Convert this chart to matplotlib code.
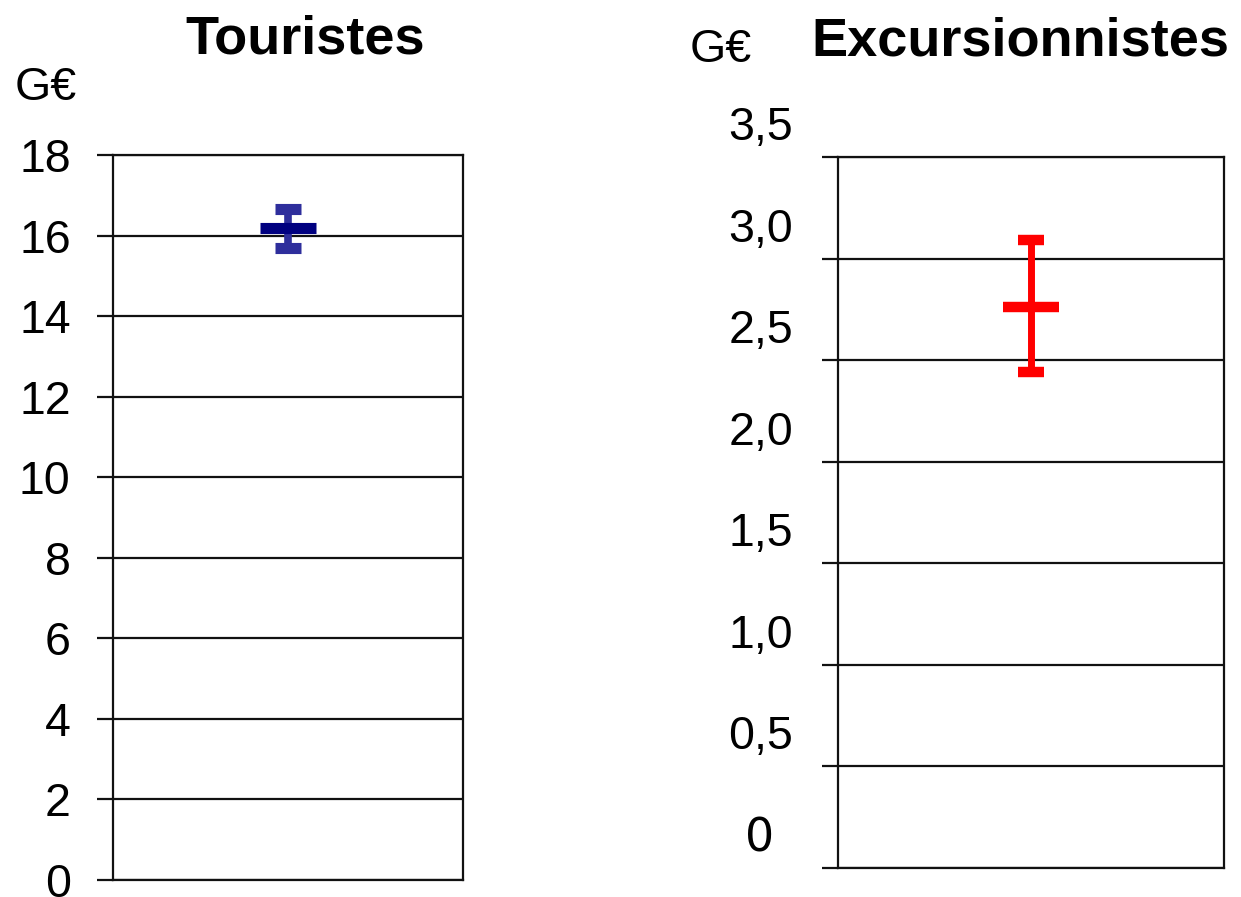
import numpy as np
import matplotlib
matplotlib.use('Agg')
import matplotlib.pyplot as plt
from matplotlib.transforms import ScaledTranslation

# données (milliards d'euros)
titres = ['Touristes', 'Excursionnistes']
valeurs = [16.2, 2.76]
bas = [15.7, 2.44]
haut = [16.65, 3.09]

ticks_tour = [0, 2, 4, 6, 8, 10, 12, 14, 16, 18]
ticks_exc = [0, 0.5, 1.0, 1.5, 2.0, 2.5, 3.0, 3.5]
labels_exc = ['0', '0,5', '1,0', '1,5', '2,0', '2,5', '3,0', '3,5']

plt.rcParams['font.family'] = ['Liberation Sans', 'DejaVu Sans']

W, H = 1241, 897
fig = plt.figure(figsize=(W / 100, H / 100), dpi=100)

ax1 = fig.add_axes([113 / W, (H - 880) / H, 350 / W, 725 / H])
ax2 = fig.add_axes([838 / W, (H - 868) / H, 386 / W, 711 / H])

def style_axe(ax, ymax, ticks):
    ax.set_xlim(0, 2)
    ax.set_ylim(0, ymax)
    ax.set_xticks([])
    ax.set_yticks(ticks)
    for s in ax.spines.values():
        s.set_color('#111111')
        s.set_linewidth(1.6)
    ax.tick_params(axis='y', direction='out', length=11.5, width=1.6,
                   labelsize=33.5, pad=19, colors='#111111', labelcolor='black')
    ax.yaxis.grid(True, color='#111111', linewidth=1.6)
    ax.set_axisbelow(True)

style_axe(ax1, 18, ticks_tour)
style_axe(ax2, 3.5, ticks_exc)

# panneau gauche : touristes
ax1.errorbar([1], [valeurs[0]], yerr=[[valeurs[0] - bas[0]], [haut[0] - valeurs[0]]],
             fmt='_', color='#000080', markersize=40, markeredgewidth=8,
             ecolor='#2e2e9c', elinewidth=5.5, capsize=9.7, capthick=5, zorder=5)

# panneau droit : excursionnistes
ax2.errorbar([1], [valeurs[1]], yerr=[[valeurs[1] - bas[1]], [haut[1] - valeurs[1]]],
             fmt='_', color='#ff0000', markersize=40, markeredgewidth=7.5,
             ecolor='#ff0000', elinewidth=5, capsize=9.7, capthick=5, zorder=5)

# étiquettes décalées vers le haut sur le panneau droit
ax2.set_yticklabels([''] * len(ticks_exc))
decal = ax2.get_yaxis_transform() + ScaledTranslation(-0.45, 0.29, fig.dpi_scale_trans)
decal0 = ax2.get_yaxis_transform() + ScaledTranslation(-0.78, 0.29, fig.dpi_scale_trans)
for v, lab in zip(ticks_exc, labels_exc):
    if lab == '0':
        ax2.text(0, v, lab, transform=decal0, ha='center', va='center',
                 fontsize=33, family='DejaVu Sans')
    else:
        ax2.text(0, v, lab, transform=decal, ha='right', va='center', fontsize=33.5)

# titres et unités
fig.text(305 / W, 1 - 40 / H, titres[0], ha='center', va='center',
         fontsize=39, fontweight='bold')
fig.text(1020 / W, 1 - 42 / H, titres[1], ha='center', va='center',
         fontsize=39, fontweight='bold')
fig.text(15 / W, 1 - 88 / H, 'G€', ha='left', va='center', fontsize=33.5)
fig.text(690 / W, 1 - 50 / H, 'G€', ha='left', va='center', fontsize=33.5)

fig.savefig('out.png', dpi=100, facecolor='white')
